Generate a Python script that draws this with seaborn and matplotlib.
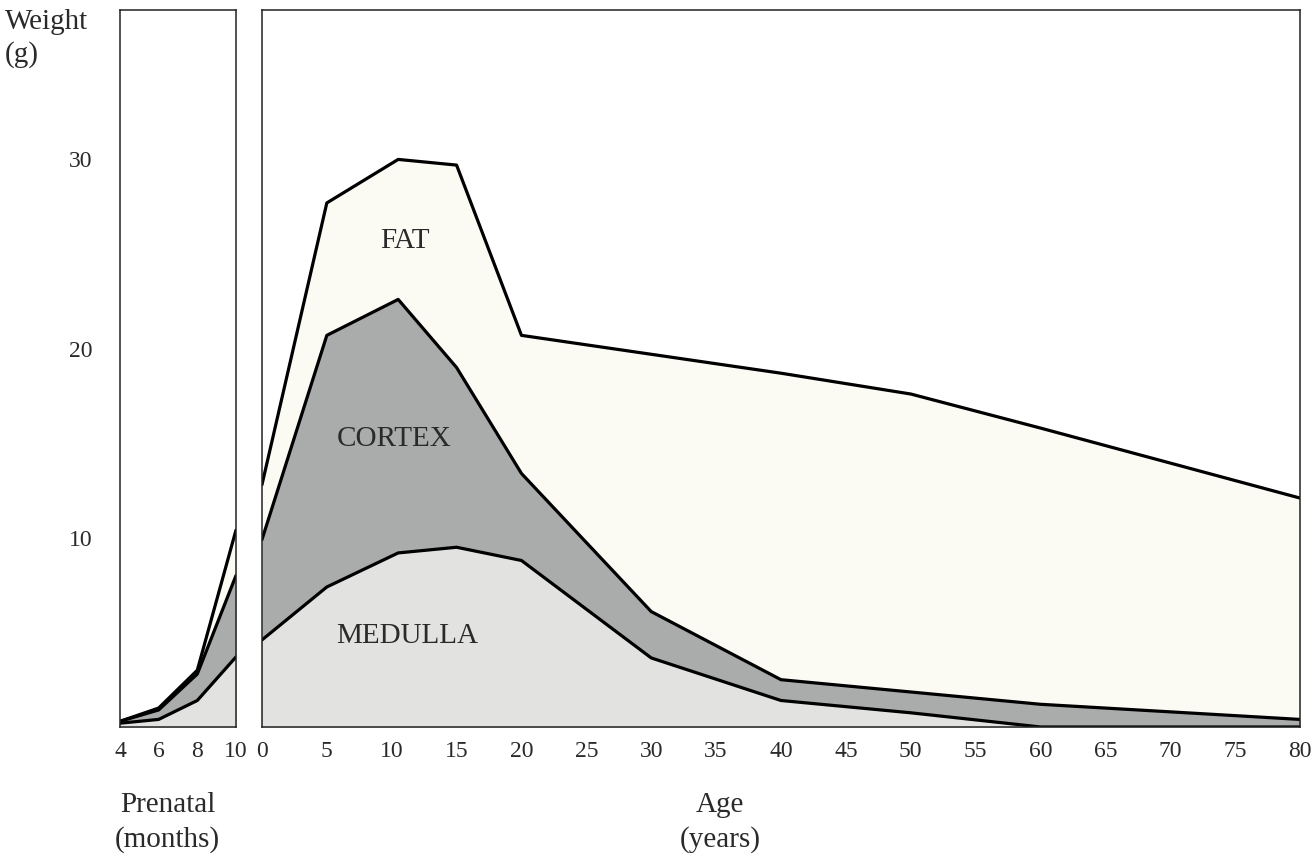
import matplotlib.pyplot as plt
import seaborn as sns
import pandas as pd

# valeurs (poids en g)
prenatal_mois = [4, 6, 8, 10]
prenatal_medulla = [0.2, 0.4, 1.4, 3.7]
prenatal_cortex = [0.3, 0.9, 2.8, 8.0]
prenatal_fat = [0.3, 1.0, 3.0, 10.4]

age_ans = [0, 5, 10.5, 15, 20, 30, 40, 50, 60, 80]
medulla = [4.6, 7.4, 9.2, 9.5, 8.8, 3.65, 1.4, 0.75, 0.0, 0.0]
cortex = [9.9, 20.7, 22.6, 19.0, 13.4, 6.1, 2.5, 1.85, 1.2, 0.4]
fat = [12.8, 27.7, 30.0, 29.7, 20.7, 19.7, 18.7, 17.6, 15.8, 12.1]

ticks_prenatal = [4, 6, 8, 10]
ticks_age = list(range(0, 85, 5))
ticks_poids = [10, 20, 30]

couleur_fat = "#fbfbf4"
couleur_cortex = "#a9acab"
couleur_medulla = "#e2e3e1"
couleur_texte = "#2a2a2a"

sns.set_theme(style="white")
plt.rcParams["font.family"] = ["Liberation Serif", "DejaVu Serif"]

fig = plt.figure(figsize=(13.13, 8.58), dpi=100)
ax_pre = fig.add_axes([0.0914, 0.1527, 0.0883, 0.8357])
ax_age = fig.add_axes([0.1995, 0.1527, 0.7906, 0.8357])


def tracer(ax, x, med, cor, gra):
    df = pd.DataFrame({"x": x, "medulla": med, "cortex": cor, "fat": gra})
    ax.fill_between(df["x"], 0, df["fat"], color=couleur_fat, lw=0)
    ax.fill_between(df["x"], 0, df["cortex"], color=couleur_cortex, lw=0)
    ax.fill_between(df["x"], 0, df["medulla"], color=couleur_medulla, lw=0)
    for col in ["medulla", "cortex", "fat"]:
        sns.lineplot(data=df, x="x", y=col, ax=ax, color="black", lw=2.3,
                     estimator=None, sort=False)
    ax.set_xlabel("")
    ax.set_ylabel("")
    ax.set_ylim(0, 37.9)
    for s in ax.spines.values():
        s.set_color("#222222")
        s.set_linewidth(1.1)
        s.set_visible(True)
    ax.tick_params(axis="both", direction="in", length=5, width=1,
                   colors="#222222", labelcolor=couleur_texte, labelsize=17)
    ax.tick_params(axis="x", pad=10)


tracer(ax_pre, prenatal_mois, prenatal_medulla, prenatal_cortex, prenatal_fat)
ax_pre.set_xlim(4, 10)
ax_pre.set_xticks(ticks_prenatal)
ax_pre.set_yticks(ticks_poids)
ax_pre.tick_params(axis="y", pad=20)

tracer(ax_age, age_ans, medulla, cortex, fat)
ax_age.set_xlim(0, 80)
ax_age.set_xticks(ticks_age)
ax_age.set_yticks([])

# etiquettes des zones
ax_age.text(11.0, 25.7, "FAT", ha="center", va="center", fontsize=21, color=couleur_texte)
ax_age.text(10.2, 15.2, "CORTEX", ha="center", va="center", fontsize=21, color=couleur_texte)
ax_age.text(11.2, 4.8, "MEDULLA", ha="center", va="center", fontsize=21, color=couleur_texte)

def texte(x, y, s, ha="left"):
    fig.text(x / 1313, 1 - y / 858, s, ha=ha, va="center", fontsize=21, color=couleur_texte)

texte(5, 22, "Weight")
texte(5, 55, "(g)")
texte(120, 805, "Prenatal")
texte(115, 840, "(months)")
texte(720, 805, "Age", ha="center")
texte(720, 840, "(years)", ha="center")

fig.savefig("out.png", dpi=100)
